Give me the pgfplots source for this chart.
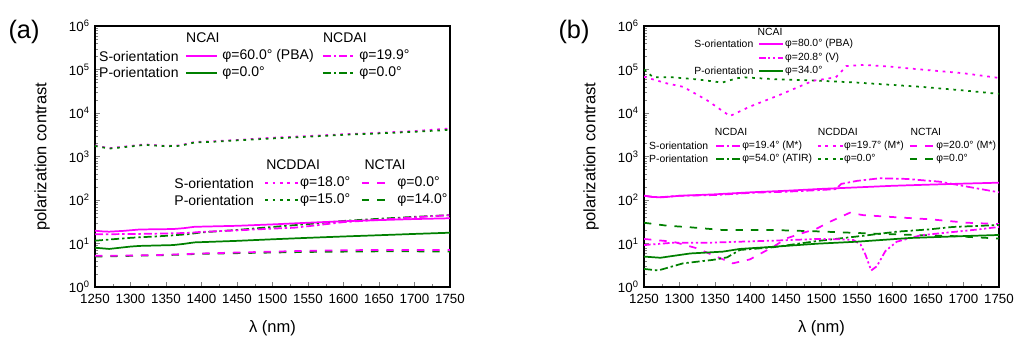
\documentclass[border=0pt]{standalone}
\usepackage{fontspec}
\setmainfont{Liberation Sans}
\usepackage{pgfplots}
\pgfplotsset{compat=1.18}
\definecolor{mag}{RGB}{255,0,255}
\definecolor{grn}{RGB}{0,128,0}
\tikzset{
  lw/.style={line width=1.3pt},
  sol/.style={lw,solid},
  ddot/.style={lw,dash pattern=on 2pt off 3.6pt},
  ddash/.style={lw,dash pattern=on 5.5pt off 6pt},
  ddd/.style={lw,dash pattern=on 6pt off 2.2pt on 1.8pt off 2.2pt},
  dddd/.style={lw,dash pattern=on 5pt off 2pt on 1.6pt off 2pt on 1.6pt off 2pt},
  LA/.style={font=\fontsize{10.5}{12}\selectfont},
  LB/.style={font=\fontsize{7.8}{9}\selectfont},
}
\newcommand{\legline}[4]{\draw[#1] (axis description cs:#2,#4) -- (axis description cs:#3,#4);}
\newcommand{\legtext}[4]{\node[#1,anchor=west,inner sep=0pt] at (axis description cs:#2,#3) {#4};}
\newcommand{\legcent}[4]{\node[#1,anchor=center,inner sep=0pt] at (axis description cs:#2,#3) {#4};}
\pgfplotsset{minorlog/.style={minor ytick={2,3,4,5,6,7,8,9,20,30,40,50,60,70,80,90,200,300,400,500,600,700,800,900,2e3,3e3,4e3,5e3,6e3,7e3,8e3,9e3,2e4,3e4,4e4,5e4,6e4,7e4,8e4,9e4,2e5,3e5,4e5,5e5,6e5,7e5,8e5,9e5}}}
\begin{document}
\begin{tikzpicture}
\useasboundingbox (-71.25pt,-43.5pt) rectangle (696.75pt,215.25pt);
\node[font=\fontsize{19}{22}\selectfont] at (-53.25pt,191.25pt) {(a)};
\node[font=\fontsize{19}{22}\selectfont] at (359.25pt,191.25pt) {(b)};
% ---------------- (a)
\begin{axis}[at={(0pt,0pt)}, anchor=south west,
    scale only axis, width=266.25pt, height=195.75pt,
    ymode=log, log basis y=10, xmin=1250, xmax=1750, ymin=1, ymax=1e6,
    ytick={1,10,100,1000,10000,100000,1000000},
    minorlog,
    yticklabels={10\textsuperscript{0},10\textsuperscript{1},10\textsuperscript{2},10\textsuperscript{3},10\textsuperscript{4},10\textsuperscript{5},10\textsuperscript{6}},
    xtick={1250,1300,...,1750},
    xticklabels={1250,1300,1350,1400,1450,1500,1550,1600,1650,1700,1750},
    minor x tick num=1,
    tick align=inside, tick pos=left,
    major tick length=4pt, minor tick length=2.2pt,
    axis line style={line width=0.8pt},
    tick label style={font=\fontsize{10}{12}\selectfont},
    xticklabel style={yshift=-1.5pt},
    yticklabel style={xshift=-0.5pt},
    xlabel={λ (nm)}, ylabel={polarization contrast},
    label style={font=\fontsize{12.4}{14}\selectfont},
    xlabel style={at={([yshift=-30.75pt]axis description cs:0.5,0)}, anchor=center},
    ylabel style={at={([xshift=-39.75pt]axis description cs:0,0.5)}, anchor=center},
  ]
% NCDDAI dotted
\addplot[mag,ddot] coordinates {(1250,1800)(1270,1550)(1300,1750)(1320,1900)(1350,1750)(1370,1800)(1390,2150)(1420,2250)(1450,2400)(1500,2700)(1550,2950)(1600,3250)(1650,3500)(1700,3850)(1750,4400)};
\addplot[grn,ddot] coordinates {(1250,1750)(1270,1520)(1300,1700)(1320,1850)(1350,1720)(1370,1760)(1390,2100)(1420,2200)(1450,2350)(1500,2600)(1550,2850)(1600,3150)(1650,3400)(1700,3700)(1750,4100)};
% NCDAI dash-dot
\addplot[grn,ddd] coordinates {(1250,11.6)(1300,13.5)(1350,15)(1380,16.3)(1400,18)(1450,20.5)(1500,24)(1550,28)(1600,33)(1650,37)(1700,41)(1750,45)};
\addplot[mag,ddd] coordinates {(1250,16.3)(1300,16.5)(1350,17)(1380,17.5)(1400,18.5)(1450,20)(1500,22)(1530,23)(1560,26)(1600,31)(1650,35)(1700,40)(1750,45)};
% NCAI solid
\addplot[mag,sol] coordinates {(1250,19.7)(1260,19.0)(1270,18.7)(1290,19.5)(1313,21.0)(1360,21.5)(1375,22.5)(1390,24.2)(1450,25.5)(1500,27.5)(1550,30)(1600,32.5)(1650,34.5)(1700,36.5)(1750,38)};
\addplot[grn,sol] coordinates {(1250,8.0)(1270,7.5)(1300,8.5)(1313,8.8)(1360,9.2)(1375,9.8)(1390,10.6)(1450,11.5)(1500,12.5)(1550,13.5)(1600,14.5)(1650,15.5)(1700,16.6)(1750,17.7)};
% NCTAI dashed
\addplot[grn,ddash] coordinates {(1250,5.0)(1300,5.2)(1350,5.4)(1400,5.8)(1450,6.0)(1500,6.2)(1550,6.4)(1600,6.5)(1650,6.6)(1700,6.6)(1750,6.5)};
\addplot[mag,ddash] coordinates {(1250,5.2)(1300,5.3)(1350,5.5)(1400,5.9)(1450,6.2)(1500,6.5)(1550,6.8)(1600,7.0)(1650,7.1)(1700,7.1)(1750,7.1)};
% legend 1
\legcent{LA}{0.304}{0.954}{NCAI}
\legcent{LA}{0.704}{0.954}{NCDAI}
\legtext{LA}{0.011}{0.885}{S-orientation}
\legtext{LA}{0.011}{0.820}{P-orientation}
\legline{mag,sol}{0.256}{0.344}{0.885}
\legline{grn,sol}{0.256}{0.344}{0.820}
\legtext{LA}{0.358}{0.885}{φ=60.0° (PBA)}
\legtext{LA}{0.358}{0.820}{φ=0.0°}
\legline{mag,ddd}{0.642}{0.730}{0.885}
\legline{grn,ddd}{0.642}{0.730}{0.820}
\legtext{LA}{0.744}{0.885}{φ=19.9°}
\legtext{LA}{0.744}{0.820}{φ=0.0°}
% legend 2
\legcent{LA}{0.558}{0.467}{NCDDAI}
\legcent{LA}{0.817}{0.467}{NCTAI}
\legtext{LA}{0.223}{0.398}{S-orientation}
\legtext{LA}{0.223}{0.333}{P-orientation}
\legline{mag,ddot}{0.479}{0.572}{0.398}
\legline{grn,ddot}{0.479}{0.572}{0.333}
\legtext{LA}{0.577}{0.398}{φ=18.0°}
\legtext{LA}{0.577}{0.333}{φ=15.0°}
\legline{mag,ddash}{0.752}{0.823}{0.398}
\legline{grn,ddash}{0.752}{0.823}{0.333}
\legtext{LA}{0.851}{0.398}{φ=0.0°}
\legtext{LA}{0.851}{0.333}{φ=14.0°}
\end{axis}
% ---------------- (b)
\begin{axis}[at={(411.75pt,0pt)}, anchor=south west,
    scale only axis, width=266.25pt, height=195.75pt,
    ymode=log, log basis y=10, xmin=1250, xmax=1750, ymin=1, ymax=1e6,
    ytick={1,10,100,1000,10000,100000,1000000},
    minorlog,
    yticklabels={10\textsuperscript{0},10\textsuperscript{1},10\textsuperscript{2},10\textsuperscript{3},10\textsuperscript{4},10\textsuperscript{5},10\textsuperscript{6}},
    xtick={1250,1300,...,1750},
    xticklabels={1250,1300,1350,1400,1450,1500,1550,1600,1650,1700,1750},
    minor x tick num=1,
    tick align=inside, tick pos=left,
    major tick length=4pt, minor tick length=2.2pt,
    axis line style={line width=0.8pt},
    tick label style={font=\fontsize{10}{12}\selectfont},
    xticklabel style={yshift=-1.5pt},
    yticklabel style={xshift=-0.5pt},
    xlabel={λ (nm)}, ylabel={polarization contrast},
    label style={font=\fontsize{12.4}{14}\selectfont},
    xlabel style={at={([yshift=-30.75pt]axis description cs:0.5,0)}, anchor=center},
    ylabel style={at={([xshift=-39.75pt]axis description cs:0,0.5)}, anchor=center},
  ]
% NCDDAI dotted
\addplot[grn,ddot] coordinates {(1250,100000)(1263,66000)(1291,66000)(1326,59000)(1360,50000)(1381,63000)(1392,66000)(1432,60000)(1490,56000)(1550,50000)(1640,40000)(1700,33000)(1750,27500)};
\addplot[mag,ddot] coordinates {(1250,68000)(1282,48000)(1305,40000)(1338,20000)(1371,8500)(1399,14000)(1441,26000)(1488,55000)(1520,66000)(1526,83000)(1535,120000)(1560,128000)(1600,115000)(1640,100000)(1700,82000)(1750,64000)};
% NCTAI dashed
\addplot[grn,ddash] coordinates {(1250,30)(1282,25.7)(1315,23.6)(1361,20.4)(1432,20.4)(1494,19)(1568,17)(1620,15.9)(1685,14.8)(1750,13)};
\addplot[mag,ddash] coordinates {(1250,12.7)(1291,11)(1324,7.8)(1352,5)(1375,3.5)(1399,4.3)(1432,8.4)(1451,13.2)(1494,22.3)(1512,31.7)(1540,51)(1558,45)(1606,40)(1653,36)(1705,30)(1750,28)};
% NCDAI dash-dot
\addplot[grn,ddd] coordinates {(1250,2.6)(1270,2.4)(1305,3.5)(1347,4.2)(1367,4.8)(1385,7.1)(1432,8.2)(1496,11.5)(1558,15)(1606,18.7)(1650,21)(1685,24)(1750,26.6)};
\addplot[mag,ddd] coordinates {(1250,125)(1270,115)(1300,125)(1350,130)(1403,147)(1450,155)(1500,170)(1520,178)(1528,235)(1550,275)(1582,316)(1620,305)(1667,263)(1700,210)(1750,150)};
% NCAI
\addplot[mag,dddd] coordinates {(1250,9.2)(1290,10.4)(1340,10.4)(1385,11)(1430,11.6)(1495,12.7)(1525,12.5)(1545,12.0)(1555,9.5)(1562,5.5)(1570,2.4)(1578,3.0)(1590,6.7)(1606,11)(1640,15.5)(1680,18)(1720,21)(1750,24)};
\addplot[grn,sol] coordinates {(1250,5.0)(1273,4.7)(1315,5.9)(1361,6.5)(1385,7.5)(1432,8.4)(1494,9.9)(1550,11)(1625,13.4)(1700,14.8)(1750,15.7)};
\addplot[mag,sol] coordinates {(1250,126)(1260,118)(1275,115)(1300,125)(1350,135)(1400,150)(1450,163)(1500,180)(1550,195)(1600,212)(1650,225)(1700,238)(1750,250)};
% legend 1
\legcent{LB}{0.355}{0.977}{NCAI}
\legtext{LB}{0.141}{0.931}{S-orientation}
\legtext{LB}{0.141}{0.828}{P-orientation}
\legline{mag,sol}{0.324}{0.392}{0.931}
\legline{mag,dddd}{0.324}{0.392}{0.877}
\legline{grn,sol}{0.324}{0.392}{0.828}
\legtext{LB}{0.397}{0.931}{φ=80.0° (PBA)}
\legtext{LB}{0.397}{0.877}{φ=20.8° (V)}
\legtext{LB}{0.397}{0.828}{φ=34.0°}
% legend 2
\legcent{LB}{0.245}{0.594}{NCDAI}
\legcent{LB}{0.546}{0.594}{NCDDAI}
\legcent{LB}{0.794}{0.594}{NCTAI}
\legtext{LB}{0.014}{0.540}{S-orientation}
\legtext{LB}{0.014}{0.490}{P-orientation}
\legline{mag,ddd}{0.203}{0.273}{0.540}
\legline{grn,ddd}{0.203}{0.273}{0.490}
\legtext{LB}{0.276}{0.540}{φ=19.4° (M*)}
\legtext{LB}{0.276}{0.490}{φ=54.0° (ATIR)}
\legline{mag,ddot}{0.490}{0.561}{0.540}
\legline{grn,ddot}{0.490}{0.561}{0.490}
\legtext{LB}{0.563}{0.540}{φ=19.7° (M*)}
\legtext{LB}{0.563}{0.490}{φ=0.0°}
\legline{mag,ddash}{0.749}{0.820}{0.540}
\legline{grn,ddash}{0.749}{0.820}{0.490}
\legtext{LB}{0.823}{0.540}{φ=20.0° (M*)}
\legtext{LB}{0.823}{0.490}{φ=0.0°}
\end{axis}
\end{tikzpicture}
\end{document}
